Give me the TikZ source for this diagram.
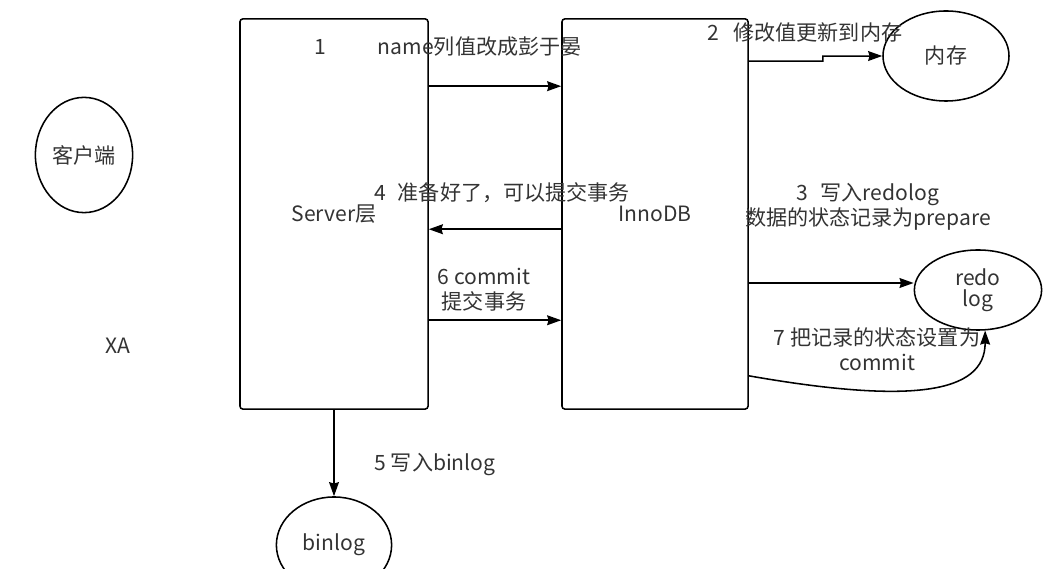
\documentclass[tikz,border=0pt]{standalone}
\usepackage{fontspec}
\setmainfont{Noto Sans CJK SC}
\usetikzlibrary{shapes.geometric,arrows.meta}
\definecolor{ink}{HTML}{333333}

\tikzstyle{layer} = [rectangle, rounded corners=2pt, minimum width=4.7cm, minimum height=9.75cm, draw=black, line width=1.1pt, text=ink]
\tikzstyle{store} = [ellipse, draw=black, line width=1.1pt, align=center, inner sep=0pt, text=ink]
\tikzstyle{arrow} = [line width=1.1pt,->,>={Stealth[length=10pt,width=7pt,inset=1pt]}]
\tikzstyle{note} = [inner sep=0pt, align=center, text=ink]

\begin{document}
\begin{tikzpicture}[x=0.025cm, y=-0.025cm, font=\fontsize{15}{18}\selectfont]
    \useasboundingbox (0,0) rectangle (1047,569);

    \node (client) [store, minimum width=2.43cm, minimum height=2.88cm] at (84,155) {客户端};
    \node (server) [layer] at (334,214) {Server层\hspace{0.35cm}};
    \node (innodb) [layer, minimum width=4.65cm] at (655,214) {InnoDB\hspace{0.7cm}};
    \node (mem) [store, minimum width=3.15cm, minimum height=2.25cm] at (946,56) {内存};
    \node (redo) [store, minimum width=3.18cm, minimum height=2cm] at (978,290) {redo\\[-3pt]log};
    \node (binlog) [store, minimum width=2.88cm, minimum height=2.4cm] at (334,545) {binlog};
    \node (xa) [note] at (118,346) {XA};

    \draw [arrow] ([yshift=-1.7cm]server.north east) -- ([yshift=-1.7cm]innodb.north west);
    \draw [arrow] ([yshift=-1.075cm]innodb.north east) -- ++(1.85cm,0) -- ++(0,0.125cm) -- (mem.west);
    \draw [arrow] (innodb.east |- 0,283) -- (redo.west |- 0,283);
    \draw [arrow] ([yshift=-5.275cm]innodb.north west) -- ([yshift=-5.275cm]server.north east);
    \draw [arrow] (server.south) -- (binlog.north);
    \draw [arrow] ([yshift=-7.55cm]server.north east) -- ([yshift=-7.55cm]innodb.north west);
    \draw [arrow] ([yshift=0.85cm]innodb.south east) .. controls +(4cm,-0.7cm) and +(0,-1.6cm) .. (redo.-80);

    \node (step1) [note, anchor=west] at (314,47) {1\hspace{1.3cm}name列值改成彭于晏};
    \node (step2) [note] at (805,32) {2\hspace{0.35cm}修改值更新到内存};
    \node (step3) [note] at (868,207) {3\hspace{0.3cm}写入redolog\\数据的状态记录为prepare};
    \node (step4) [note] at (502,193) {4\hspace{0.3cm}准备好了，可以提交事务};
    \node (step5) [note] at (435,465) {5 写入binlog};
    \node (step6) [note] at (484,290) {6 commit\\提交事务};
    \node (step7) [note] at (877,349) {7 把记录的状态设置为\\commit};

\end{tikzpicture}
\end{document}
